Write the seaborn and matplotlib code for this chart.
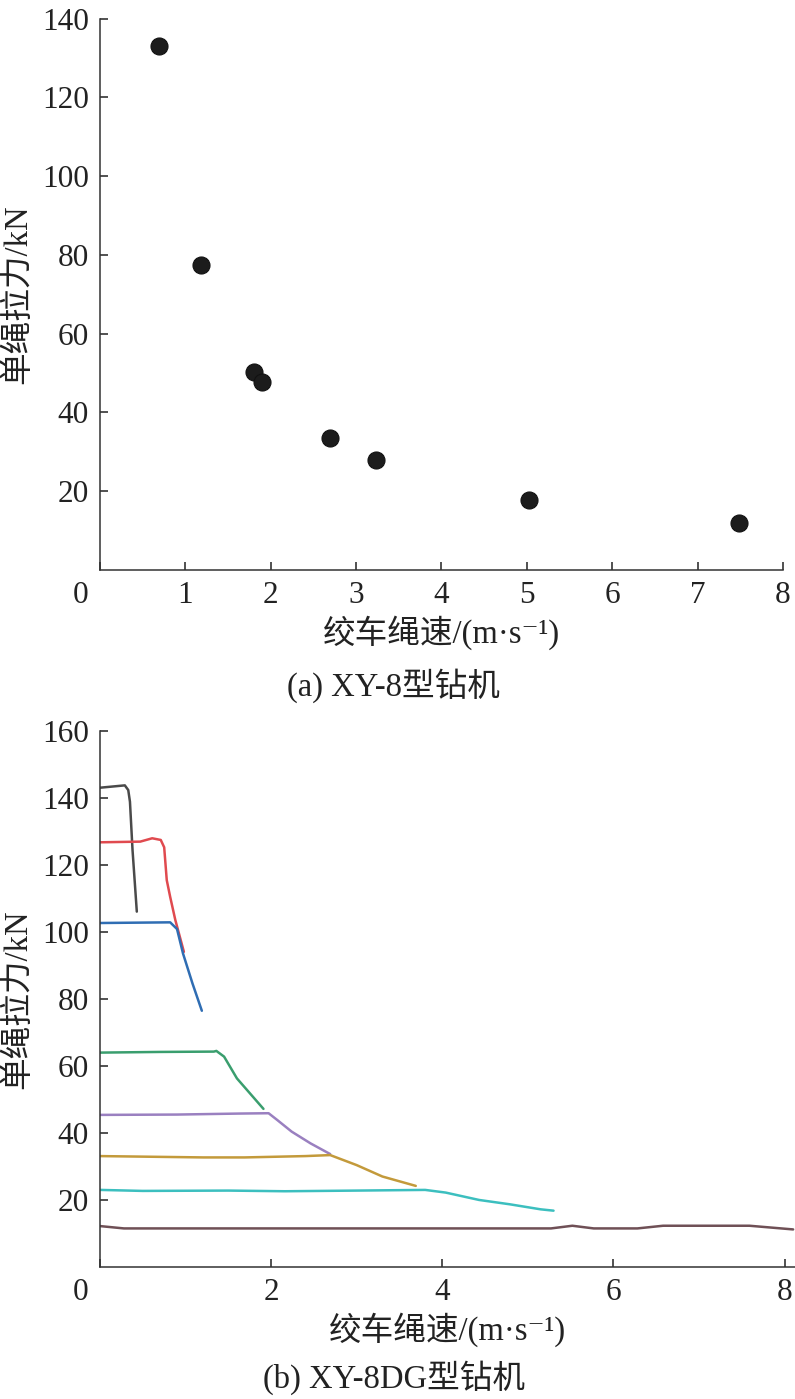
import numpy as np
import pandas as pd
import matplotlib
matplotlib.use("Agg")
import matplotlib.pyplot as plt
from matplotlib.transforms import ScaledTranslation
import seaborn as sns

# (a) XY-8 scatter points
speed_a = [0.69, 1.18, 1.80, 1.90, 2.69, 3.23, 5.03, 7.49]
force_a = [133.2, 77.4, 50.3, 47.7, 33.5, 27.9, 17.8, 11.9]

# (b) XY-8DG curves, one per gear
c1_x = [0.0, 0.29, 0.33, 0.35, 0.38, 0.41, 0.43]
c1_y = [143.1, 143.8, 142.4, 138.9, 124.5, 113.5, 106.1]
c2_x = [0.0, 0.47, 0.61, 0.71, 0.75, 0.78, 0.82, 0.88, 0.98]
c2_y = [126.8, 127.0, 128.0, 127.5, 125.3, 115.5, 110.5, 103.6, 94.1]
c3_x = [0.0, 0.82, 0.90, 0.97, 1.08, 1.19]
c3_y = [102.7, 102.9, 100.9, 93.6, 84.7, 76.5]
c4_x = [0.0, 0.7, 1.33, 1.36, 1.45, 1.60, 1.91]
c4_y = [64.0, 64.2, 64.3, 64.5, 62.8, 56.3, 47.2]
c5_x = [0.0, 0.9, 1.63, 1.97, 2.07, 2.24, 2.46, 2.69]
c5_y = [45.4, 45.5, 45.8, 45.9, 43.9, 40.4, 36.9, 33.7]
c6_x = [0.0, 1.21, 1.69, 2.40, 2.69, 3.00, 3.30, 3.69]
c6_y = [33.1, 32.7, 32.7, 33.1, 33.4, 30.4, 27.0, 24.2]
c7_x = [0.0, 0.5, 1.5, 2.16, 3.0, 3.80, 4.04, 4.43, 4.79, 5.15, 5.30]
c7_y = [23.0, 22.7, 22.8, 22.6, 22.8, 23.0, 22.2, 20.0, 18.7, 17.2, 16.8]
c8_x = [0.0, 0.28, 5.27, 5.52, 5.77, 6.28, 6.58, 7.59, 8.10]
c8_y = [12.2, 11.5, 11.5, 12.3, 11.5, 11.5, 12.3, 12.3, 11.2]

curves_x = [c1_x, c2_x, c3_x, c4_x, c5_x, c6_x, c7_x, c8_x]
curves_y = [c1_y, c2_y, c3_y, c4_y, c5_y, c6_y, c7_y, c8_y]
colors = ['#4a4a4a', '#e04a4f', '#2f6db3', '#3a9e6e', '#9a80c0', '#c39a3b', '#3cbfbf', '#6f5056']

rows = []
for i, (xs, ys) in enumerate(zip(curves_x, curves_y)):
    for x, y in zip(xs, ys):
        rows.append({'gear': i, 'speed': x, 'force': y})
df_b = pd.DataFrame(rows)
df_a = pd.DataFrame({'speed': speed_a, 'force': force_a})

sns.set_style('ticks')
plt.rcParams['font.family'] = ['Liberation Serif', 'Noto Sans CJK SC', 'DejaVu Serif', 'DejaVu Sans']
plt.rcParams['font.size'] = 22
plt.rcParams['axes.edgecolor'] = '#333333'
plt.rcParams['axes.linewidth'] = 1.1

fig = plt.figure(figsize=(7.95, 13.99), dpi=100)
ax1 = fig.add_axes([0.1258, 0.5926, 0.859, 0.394])
ax2 = fig.add_axes([0.1258, 0.0944, 0.874, 0.383])

sns.scatterplot(data=df_a, x='speed', y='force', ax=ax1, s=150,
                color='#1c1c1c', edgecolor='#111111', linewidth=0.8)
ax1.set_xlim(0, 8)
ax1.set_ylim(0, 140)
ax1.set_xticks(range(0, 9))
ax1.set_yticks(range(20, 141, 20))

sns.lineplot(data=df_b, x='speed', y='force', hue='gear', palette=colors,
             sort=False, estimator=None, ax=ax2, linewidth=1.8, legend=False)
ax2.set_xlim(0, 8.12)
ax2.set_ylim(0, 160)
ax2.set_xticks(range(0, 9, 2))
ax2.set_yticks(range(20, 161, 20))

xlab = '绞车绳速/(m·s⁻¹)'
ylab = '单绳拉力/kN'
for ax, cap, cy in [(ax1, '(a) XY-8型钻机', 0.510), (ax2, '(b) XY-8DG型钻机', 0.0155)]:
    sns.despine(ax=ax)
    ax.tick_params(direction='in', length=6, width=1.1, labelsize=22.5, colors='#222222',
                   pad=8)
    ax.set_xlabel(xlab, fontsize=23.5, labelpad=4, color='#222222')
    ax.set_ylabel(ylab, fontsize=23.5, labelpad=6, color='#222222')
    fig.text(0.495, cy, cap, ha='center', va='center', fontsize=23.5, color='#222222')
    lab0 = ax.get_xticklabels()[0]
    lab0.set_transform(lab0.get_transform() + ScaledTranslation(-0.19, 0, fig.dpi_scale_trans))

fig.savefig('out.png', dpi=100)
